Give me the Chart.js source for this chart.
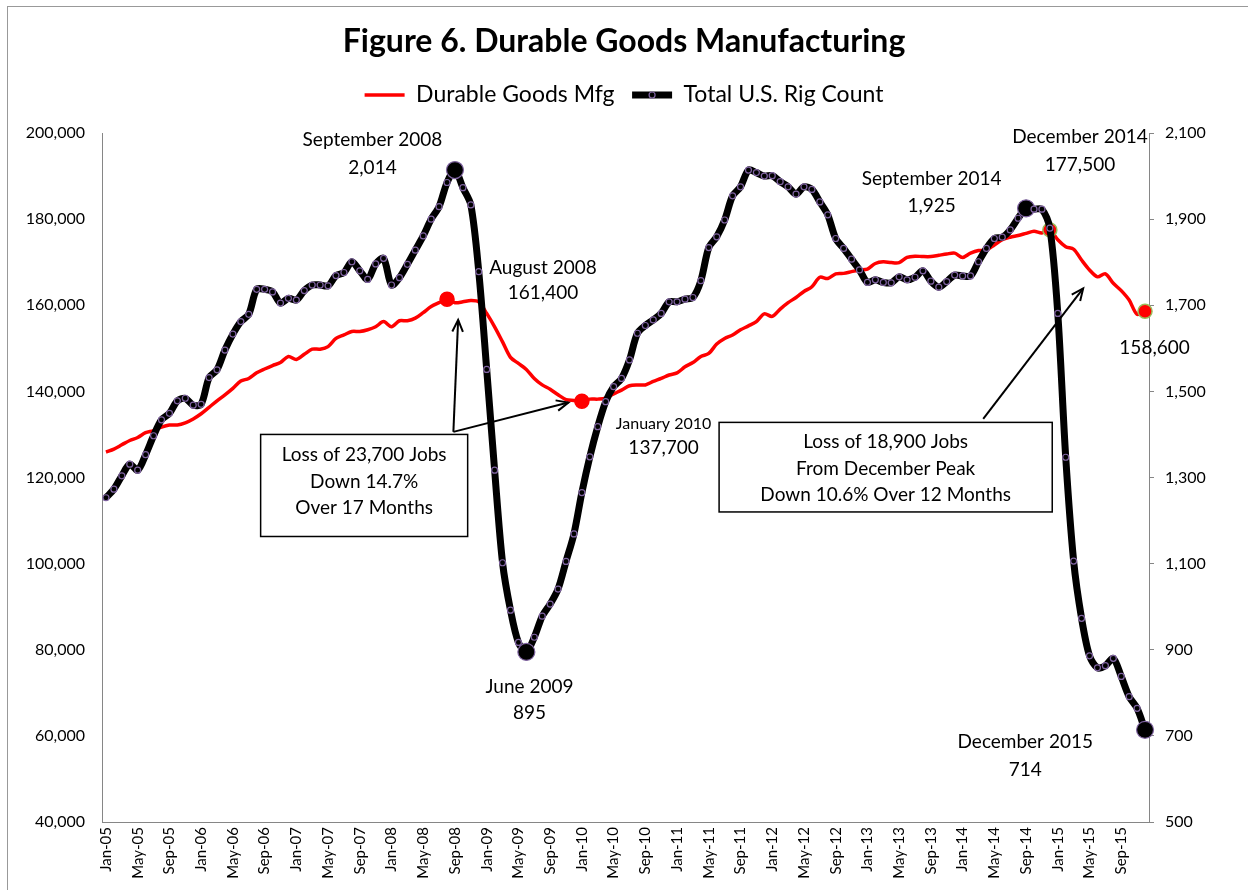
<!DOCTYPE html>
<html>
<head>
<meta charset="utf-8">
<script src="https://cdn.jsdelivr.net/npm/chart.js@4.4.1/dist/chart.umd.min.js"></script>
<style>
html,body{margin:0;padding:0;background:#fff;}
#wrap{position:relative;width:1248px;height:890px;}
canvas{display:block;}
</style>
</head>
<body>
<div id="wrap"><canvas id="c" width="1248" height="890"></canvas></div>
<script>
// ---------------- data ----------------
const monthNames = ['Jan','Feb','Mar','Apr','May','Jun','Jul','Aug','Sep','Oct','Nov','Dec'];
const yearCodes = ['05','06','07','08','09','10','11','12','13','14','15'];
const categories = [];
for (const y of yearCodes) for (const m of monthNames) categories.push(m + '-' + y);
const tickEvery = 4;

const durableGoods = [
  125900,126600,127600,128600,129300,130400,130900,131700,132200,132200,132700,133600,
  134800,136300,137800,139200,140700,142400,143000,144300,145200,146000,146700,148100,
  147400,148600,149800,149800,150400,152300,153100,153900,153900,154300,155000,156200,
  155000,156400,156400,157000,158300,159700,160600,161400,160600,160800,161100,160800,
  158100,155000,151500,147900,146500,145100,143000,141500,140500,139200,138100,137900,
  137700,138200,138200,138400,139400,140300,141300,141500,141500,142300,143000,143800,
  144300,145700,146700,148100,148800,151000,152300,153100,154300,155200,156200,158000,
  157400,159100,160600,161800,163200,164300,166500,166200,167300,167400,167800,168200,
  168400,169700,170100,169900,169900,171100,171400,171300,171300,171600,171900,172100,
  171100,172100,172700,172800,174000,175200,175800,176200,176700,177200,176800,177500,
  175200,173600,173000,170500,168200,166600,167300,165100,163400,161200,157900,158600
];

const rigCount = [
  1253,1273,1304,1331,1317,1353,1397,1434,1449,1478,1484,1468,
  1470,1532,1550,1596,1633,1662,1679,1737,1737,1731,1705,1716,
  1712,1734,1747,1747,1745,1769,1776,1801,1780,1760,1796,1809,
  1747,1764,1795,1828,1861,1900,1929,1985,2014,1973,1933,1778,
  1551,1317,1102,992,917,895,929,978,1006,1041,1105,1169,
  1265,1348,1418,1476,1511,1530,1573,1635,1653,1666,1681,1708,
  1708,1714,1718,1757,1834,1859,1898,1954,1975,2014,2008,2000,
  2001,1987,1975,1958,1975,1969,1940,1910,1855,1832,1807,1782,
  1753,1759,1753,1752,1766,1759,1765,1780,1756,1742,1755,1770,
  1768,1768,1801,1832,1855,1858,1875,1902,1925,1923,1923,1879,
  1681,1347,1106,973,886,858,863,880,838,791,764,714
];

const leftAxisTicks = [40000,60000,80000,100000,120000,140000,160000,180000,200000];
const rightAxisTicks = [500,700,900,1100,1300,1500,1700,1900,2100];

// highlighted points (indices into categories)
const rigHighlights = [44, 53, 116, 131];      // Sep-08, Jun-09, Sep-14, Dec-15
const durHighlights = [43, 60, 119, 131];      // Aug-08, Jan-10, Dec-14, Dec-15
const durGreenEdge = [119, 131];

// annotation texts: [text, category position, left-axis value, font size]
const noteTexts = [
  ['September 2008', 33.6, 198400, 19],
  ['2,014',          33.6, 192000, 19],
  ['August 2008',    55.1, 168700, 19],
  ['161,400',        55.1, 162800, 19],
  ['January 2010',   70.3, 132400, 16],
  ['137,700',        70.3, 126800, 19],
  ['June 2009',      53.4, 71400, 19],
  ['895',            53.4, 65300, 19],
  ['September 2014', 104.1, 189300, 19],
  ['1,925',          104.1, 183000, 19],
  ['December 2014',  122.8, 199100, 19],
  ['177,500',        122.8, 192700, 19],
  ['158,600',        132.2, 150100, 19],
  ['December 2015',  115.9, 58600, 19],
  ['714',            115.9, 52100, 19]
];
const noteBoxes = [
  {from: 19.5, to: 45.6, top: 130000, bottom: 106300,
   lines: ['Loss of 23,700 Jobs', 'Down 14.7%', 'Over 17 Months'], at: [125200, 119000, 113000]},
  {from: 77.3, to: 119.3, top: 132800, bottom: 112000,
   lines: ['Loss of 18,900 Jobs', 'From December Peak', 'Down 10.6% Over 12 Months'], at: [128250, 121980, 115940]}
];
const noteArrows = [
  [43.8, 130600, 44.4, 156600],
  [43.8, 130600, 58.3, 137400],
  [110.6, 133600, 123.2, 163900]
];

const FONT = 'Lato';
const AXIS_GREY = '#868686';
const PURPLE = '#8064A2';

// ---------------- plugin for notes ----------------
function drawArrow(ctx, x0, y0, x1, y1) {
  ctx.beginPath(); ctx.moveTo(x0, y0); ctx.lineTo(x1, y1); ctx.stroke();
  const a = Math.atan2(y1 - y0, x1 - x0), L = 13, w = 0.42;
  ctx.beginPath();
  ctx.moveTo(x1 - L * Math.cos(a - w), y1 - L * Math.sin(a - w));
  ctx.lineTo(x1, y1);
  ctx.lineTo(x1 - L * Math.cos(a + w), y1 - L * Math.sin(a + w));
  ctx.stroke();
}

const notesPlugin = {
  id: 'notes',
  beforeDraw(chart) {
    const ctx = chart.ctx;
    ctx.save();
    ctx.fillStyle = '#fff';
    ctx.fillRect(0, 0, chart.width, chart.height);
    ctx.strokeStyle = '#999';
    ctx.lineWidth = 1;
    ctx.strokeRect(7.5, 6.5, chart.width + 20, chart.height + 20);
    ctx.restore();
  },
  afterDraw(chart) {
    const ctx = chart.ctx;
    const xs = chart.scales.x, ys = chart.scales.yL;
    const X = v => xs.getPixelForValue(v);
    const Y = v => ys.getPixelForValue(v);
    ctx.save();
    // boxes
    for (const b of noteBoxes) {
      const x0 = X(b.from), x1 = X(b.to), y0 = Y(b.top), y1 = Y(b.bottom);
      ctx.fillStyle = '#fff';
      ctx.fillRect(x0, y0, x1 - x0, y1 - y0);
      ctx.strokeStyle = '#000';
      ctx.lineWidth = 1.5;
      ctx.strokeRect(x0, y0, x1 - x0, y1 - y0);
      ctx.fillStyle = '#000';
      ctx.font = '19px ' + FONT;
      ctx.textAlign = 'center';
      ctx.textBaseline = 'middle';
      b.lines.forEach((t, k) => ctx.fillText(t, (x0 + x1) / 2, Y(b.at[k])));
    }
    // arrows
    ctx.strokeStyle = '#000';
    ctx.lineWidth = 2;
    for (const a of noteArrows) drawArrow(ctx, X(a[0]), Y(a[1]), X(a[2]), Y(a[3]));
    // texts
    ctx.fillStyle = '#000';
    ctx.textAlign = 'center';
    ctx.textBaseline = 'middle';
    for (const n of noteTexts) {
      ctx.font = n[3] + 'px ' + FONT;
      ctx.fillText(n[0], X(n[1]), Y(n[2]));
    }
    // small marker on the rig-count legend sample line
    const lg = chart.legend;
    if (lg && lg.legendHitBoxes && lg.legendHitBoxes[1]) {
      const hb = lg.legendHitBoxes[1];
      ctx.beginPath();
      ctx.arc(hb.left + 20, hb.top + hb.height / 2, 3, 0, Math.PI * 2);
      ctx.fillStyle = '#000'; ctx.fill();
      ctx.strokeStyle = PURPLE; ctx.lineWidth = 1.2; ctx.stroke();
    }
    ctx.restore();
  }
};

function fmt(v) { return Number(v).toLocaleString('en-US'); }

function build() {
  Chart.defaults.font.family = FONT;
  Chart.defaults.color = '#000';
  new Chart(document.getElementById('c'), {
    type: 'line',
    data: {
      labels: categories,
      datasets: [
        {
          label: 'Durable Goods Mfg',
          data: durableGoods,
          yAxisID: 'yL',
          borderColor: '#FF0000',
          backgroundColor: '#FF0000',
          borderWidth: 3.5,
          tension: 0.3,
          order: 2,
          clip: false,
          pointRadius: c => durHighlights.includes(c.dataIndex) ? 7 : 0,
          pointHoverRadius: c => durHighlights.includes(c.dataIndex) ? 7 : 0,
          pointBackgroundColor: '#FF0000',
          pointBorderColor: c => durGreenEdge.includes(c.dataIndex) ? '#9BBB59' : '#FF0000',
          pointBorderWidth: 1.5
        },
        {
          label: 'Total U.S. Rig Count',
          data: rigCount,
          yAxisID: 'yR',
          borderColor: '#000000',
          backgroundColor: '#000000',
          borderWidth: 7,
          tension: 0.3,
          order: 1,
          clip: false,
          pointRadius: c => rigHighlights.includes(c.dataIndex) ? 8.5 : 3,
          pointHoverRadius: c => rigHighlights.includes(c.dataIndex) ? 8.5 : 3,
          pointBackgroundColor: '#000000',
          pointBorderColor: PURPLE,
          pointBorderWidth: 1.2
        }
      ]
    },
    options: {
      responsive: false,
      animation: false,
      devicePixelRatio: 1,
      layout: {padding: 0},
      events: [],
      plugins: {
        title: {
          display: true,
          text: 'Figure 6. Durable Goods Manufacturing',
          font: {family: FONT, size: 32, weight: 'bold'},
          color: '#000',
          padding: {top: 22.8, bottom: 4.8}
        },
        legend: {
          display: true,
          position: 'top',
          labels: {
            usePointStyle: true,
            pointStyle: 'line',
            pointStyleWidth: 40,
            padding: 17.5,
            font: {family: FONT, size: 23},
            color: '#000',
            generateLabels: chart => chart.data.datasets.map((ds, i) => ({
              text: ds.label,
              fillStyle: ds.borderColor,
              strokeStyle: ds.borderColor,
              lineWidth: ds.borderWidth,
              pointStyle: 'line',
              fontColor: '#000',
              hidden: false,
              datasetIndex: i
            }))
          }
        },
        subtitle: {
          display: true,
          text: '',
          position: 'top',
          weight: 500,
          font: {size: 10},
          padding: {top: 0, bottom: 4.5}
        },
        tooltip: {enabled: false}
      },
      scales: {
        x: {
          type: 'category',
          offset: true,
          grid: {display: false, drawTicks: false},
          border: {display: true, color: AXIS_GREY, width: 1},
          ticks: {
            autoSkip: false,
            minRotation: 90,
            maxRotation: 90,
            padding: 5,
            font: {family: FONT, size: 15},
            color: '#000',
            callback: function (val, index) {
              return index % tickEvery === 0 ? this.getLabelForValue(val) : '';
            }
          },
          afterFit: s => { s.height = 68; }
        },
        yL: {
          type: 'linear',
          position: 'left',
          min: leftAxisTicks[0],
          max: leftAxisTicks[leftAxisTicks.length - 1],
          grid: {display: false, drawTicks: false},
          border: {display: true, color: AXIS_GREY, width: 1},
          afterBuildTicks: s => { s.ticks = leftAxisTicks.map(v => ({value: v})); },
          ticks: {
            padding: 17,
            font: {family: FONT, size: 16},
            color: '#000',
            callback: v => fmt(v)
          },
          afterFit: s => { s.width = 102; }
        },
        yR: {
          type: 'linear',
          position: 'right',
          min: rightAxisTicks[0],
          max: rightAxisTicks[rightAxisTicks.length - 1],
          grid: {display: true, drawOnChartArea: false, drawTicks: true, tickLength: 5, color: AXIS_GREY},
          border: {display: true, color: AXIS_GREY, width: 1},
          afterBuildTicks: s => { s.ticks = rightAxisTicks.map(v => ({value: v})); },
          ticks: {
            padding: 11,
            font: {family: FONT, size: 16},
            color: '#000',
            callback: v => fmt(v)
          },
          afterFit: s => { s.width = 99; }
        }
      }
    },
    plugins: [notesPlugin]
  });
}

if (document.fonts && document.fonts.load) {
  Promise.all([
    document.fonts.load('bold 32px Lato'),
    document.fonts.load('23px Lato'),
    document.fonts.load('16px Lato')
  ]).then(build, build);
} else {
  build();
}
</script>
</body>
</html>
